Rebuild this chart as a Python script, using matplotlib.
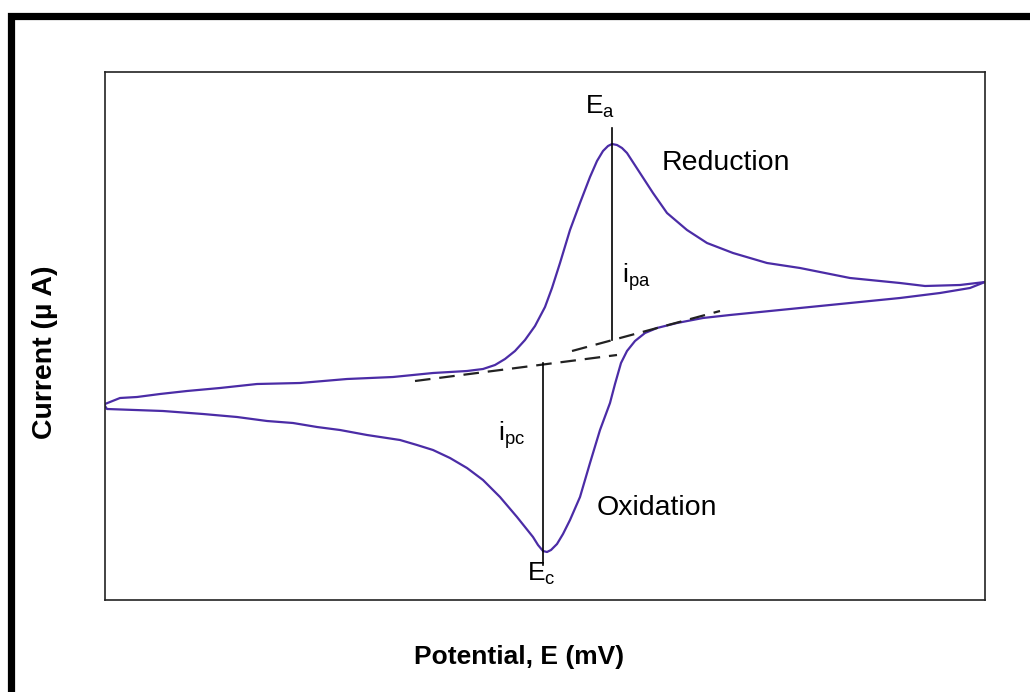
import matplotlib
matplotlib.use("Agg")
import matplotlib.pyplot as plt
from matplotlib.patches import Rectangle

plt.rcParams['font.family'] = ['Liberation Sans', 'DejaVu Sans']
plt.rcParams['mathtext.default'] = 'regular'

# forward scan (left -> right), potential in mV, current in uA
E_fwd = [0, 15, 32, 55, 82, 115, 152, 195, 242, 288, 328, 362, 378, 390, 400, 410, 420,
         430, 440, 447, 455, 465, 475, 485, 492, 498, 503, 507, 512, 517, 522, 535, 548,
         562, 582, 602, 628, 662, 695, 745, 795, 820, 855, 880]
I_fwd = [-0.4, 0.2, 0.3, 0.6, 0.9, 1.2, 1.6, 1.7, 2.1, 2.3, 2.7, 2.9, 3.1, 3.5, 4.1, 4.9, 6.0,
         7.4, 9.3, 11.2, 13.7, 17.0, 19.7, 22.3, 23.9, 24.9, 25.4, 25.6, 25.5, 25.2, 24.7, 22.7, 20.7,
         18.7, 17.0, 15.7, 14.7, 13.7, 13.2, 12.2, 11.7, 11.4, 11.5, 11.8]

# reverse scan (right -> left)
E_rev = [880, 865, 835, 795, 745, 695, 655, 625, 598, 572, 552, 540, 530, 522, 516, 510,
         505, 495, 485, 475, 465, 458, 452, 446, 442, 438, 433, 428, 412, 395, 378, 362,
         345, 328, 312, 295, 262, 235, 212, 188, 162, 132, 98, 58, 2, 0]
I_rev = [11.8, 11.2, 10.7, 10.2, 9.7, 9.2, 8.8, 8.5, 8.2, 7.7, 7.2, 6.7, 5.9, 4.9, 3.7, 1.6,
         -0.3, -3.0, -6.3, -9.7, -12.0, -13.4, -14.4, -15.0, -15.2, -15.1, -14.5, -13.7, -11.7, -9.7, -8.0, -6.8,
         -5.8, -5.0, -4.5, -4.0, -3.5, -3.0, -2.7, -2.3, -2.1, -1.7, -1.4, -1.1, -0.9, -0.6]

# baselines (dashed)
base_c_E = [310, 512]
base_c_I = [1.9, 4.5]
base_a_E = [467, 615]
base_a_I = [4.9, 8.9]

# peak markers
E_pa = 507
ipa_I = [6.0, 27.2]
E_pc = 438
ipc_I = [3.7, -16.5]

fig = plt.figure(figsize=(10.3, 6.92), dpi=100)

# thick frame round the whole picture (runs off the right and bottom edges)
fig.add_artist(Rectangle((10.5/1030, -0.1), 1.2, 0.97688 + 0.1, transform=fig.transFigure,
                         fill=False, edgecolor='black', linewidth=5.2))

ax = fig.add_axes([105/1030, 92/692, 880/1030, 528/692])

curve_col = '#4b2ca6'
ax.plot(E_fwd, I_fwd, color=curve_col, lw=1.6)
ax.plot(E_rev, I_rev, color=curve_col, lw=1.6)

ax.plot(base_c_E, base_c_I, color='#222222', lw=1.6, dashes=(7, 4))
ax.plot(base_a_E, base_a_I, color='#222222', lw=1.6, dashes=(7, 4))

ax.plot([E_pa, E_pa], ipa_I, color='black', lw=1.2)
ax.plot([E_pc, E_pc], ipc_I, color='black', lw=1.2)

ax.text(495, 29.3, '$E_a$', fontsize=19, ha='center', va='center')
ax.text(436, -17.4, '$E_c$', fontsize=19, ha='center', va='center')
ax.text(517, 12.3, '$i_{pa}$', fontsize=19, ha='left', va='center')
ax.text(393, -3.5, '$i_{pc}$', fontsize=19, ha='left', va='center')
ax.text(557, 23.7, 'Reduction', fontsize=20.5, ha='left', va='center')
ax.text(492, -10.8, 'Oxidation', fontsize=20.5, ha='left', va='center')

ax.set_xlim(0, 880)
ax.set_ylim(-20, 32.8)
ax.set_xticks([])
ax.set_yticks([])
for s in ax.spines.values():
    s.set_color('#222222')
    s.set_linewidth(1.2)

fig.text(519/1030, 1 - 657/692, 'Potential, E (mV)', fontsize=19, fontweight='bold',
         ha='center', va='center')
fig.text(45/1030, 1 - 352/692, 'Current (µ A)', fontsize=20.5, fontweight='bold',
         rotation=90, ha='center', va='center')

fig.savefig('out.png', dpi=100)
